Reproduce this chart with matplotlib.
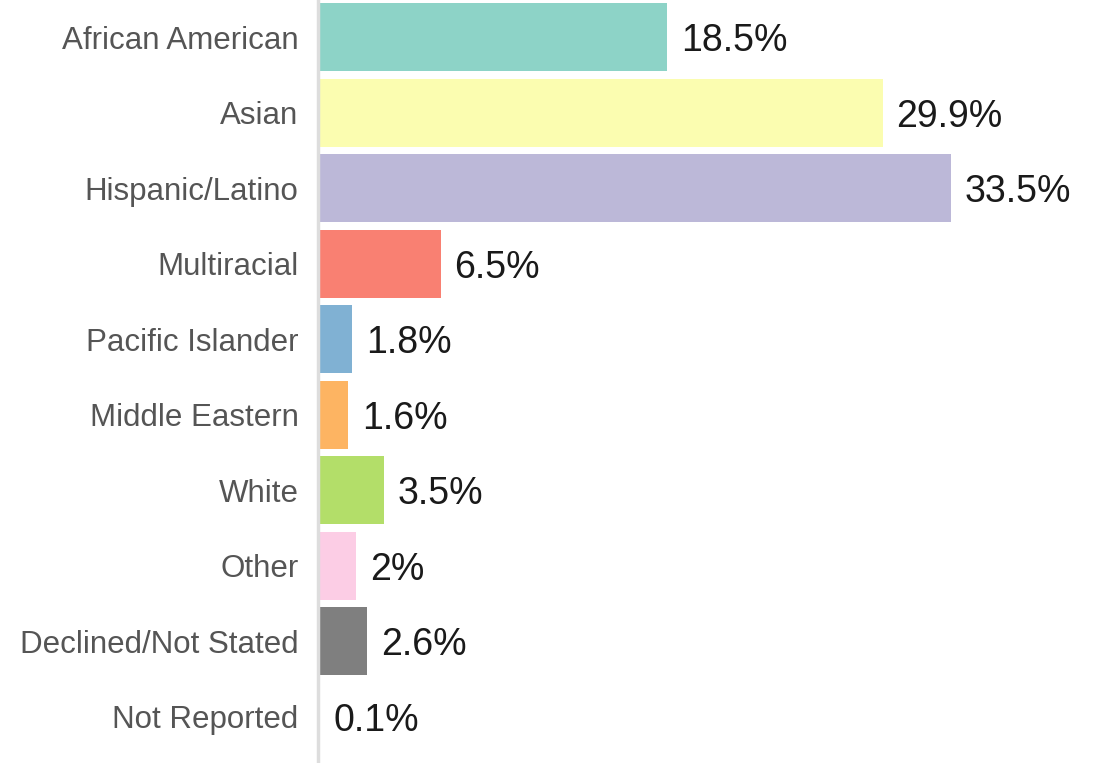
import matplotlib
matplotlib.use("Agg")
import matplotlib.pyplot as plt

categories = ["African American", "Asian", "Hispanic/Latino", "Multiracial",
              "Pacific Islander", "Middle Eastern", "White", "Other",
              "Declined/Not Stated", "Not Reported"]
values = [18.5, 29.9, 33.5, 6.5, 1.8, 1.6, 3.5, 2.0, 2.6, 0.1]
value_labels = ["18.5%", "29.9%", "33.5%", "6.5%", "1.8%", "1.6%", "3.5%",
                "2%", "2.6%", "0.1%"]
colors = ["#8dd3c7", "#fbfdb0", "#bcb8d8", "#f98072", "#80b1d3", "#fdb462",
          "#b3de69", "#fccde5", "#7f7f7f", "#d9d9d9"]

plt.rcParams["font.family"] = ["Liberation Sans", "DejaVu Sans"]

W, H = 1094, 763
fig = plt.figure(figsize=(W / 100, H / 100), dpi=100)
ax = fig.add_axes([318 / W, 0, (W - 318) / W, 1])

ypos = list(range(len(categories)))
ax.barh(ypos, values, height=0.9, color=colors, edgecolor="none")
for y, v, lab in zip(ypos, values, value_labels):
    ax.annotate(lab, (v, y), xytext=(10, 0), textcoords="offset points",
                ha="left", va="center_baseline", fontsize=27, color="#1a1a1a")

ax.set_xlim(0, 41.1)
ax.set_ylim(9.61, -0.49)
ax.set_yticks(ypos)
ax.set_yticklabels(categories, fontsize=22.5, color="#555555")
ax.tick_params(axis="y", length=0, pad=14)
ax.set_xticks([])
for s in ["top", "right", "bottom"]:
    ax.spines[s].set_visible(False)
ax.spines["left"].set_color("#dddddd")
ax.spines["left"].set_linewidth(2.5)

fig.savefig("out.png", dpi=100)
